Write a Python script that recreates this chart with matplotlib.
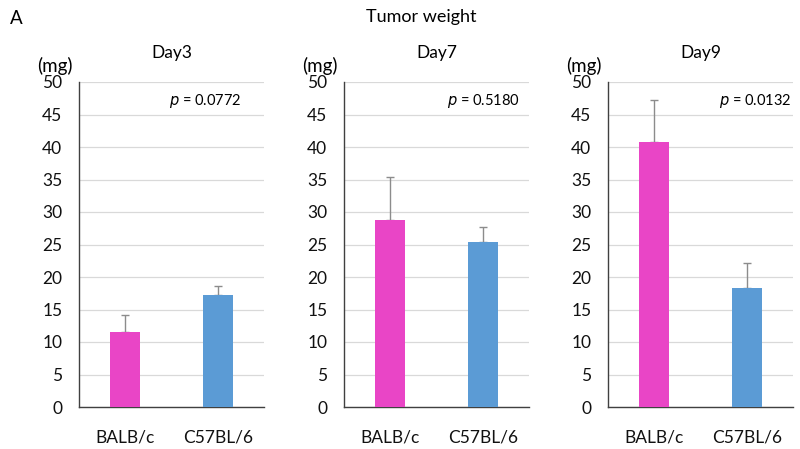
import matplotlib
matplotlib.use("Agg")
import matplotlib.pyplot as plt

# values (mg)
DAYS = ["Day3", "Day7", "Day9"]
GROUPS = ["BALB/c", "C57BL/6"]
MEAN = {
    "Day3": [11.6, 17.3],
    "Day7": [28.8, 25.4],
    "Day9": [40.8, 18.3],
}
ERR_UP = {
    "Day3": [2.5, 1.3],
    "Day7": [6.6, 2.3],
    "Day9": [6.5, 3.8],
}
PVAL = {"Day3": "0.0772", "Day7": "0.5180", "Day9": "0.0132"}

COLORS = ["#E945C6", "#5B9BD5"]

plt.rcParams.update({
    "font.family": ["Lato", "DejaVu Sans"],
    "font.size": 12,
})

fig = plt.figure(figsize=(8.0, 4.49), dpi=100)

# axes rectangles in figure fraction
LEFTS = [79 / 800, 344 / 800, 608 / 800]
WIDTH = 185 / 800
BOTTOM = 1 - 407 / 449
HEIGHT = 325 / 449
P_RIGHT = [0.876, 0.951, 0.99]

for k, day in enumerate(DAYS):
    ax = fig.add_axes([LEFTS[k], BOTTOM, WIDTH, HEIGHT])
    x = range(len(GROUPS))
    ax.bar(x, MEAN[day], width=0.32, color=COLORS, zorder=3)
    ax.errorbar(x, MEAN[day], yerr=[[0, 0], ERR_UP[day]], fmt="none",
                ecolor="#8c8c8c", elinewidth=1.0, capsize=3, capthick=1.0,
                zorder=2)
    ax.set_xlim(-0.5, 1.5)
    ax.set_ylim(0, 50)
    ax.set_yticks(range(0, 51, 5))
    ax.set_xticks(list(x))
    ax.set_xticklabels(GROUPS, fontsize=12.5)
    ax.tick_params(axis="both", length=0, labelcolor="#111111")
    ax.tick_params(axis="y", pad=12, labelsize=12.5)
    ax.tick_params(axis="x", pad=16)
    ax.yaxis.grid(True, color="#d9d9d9", linewidth=0.9, zorder=0)
    ax.set_axisbelow(True)
    for s in ["top", "right"]:
        ax.spines[s].set_visible(False)
    for s in ["left", "bottom"]:
        ax.spines[s].set_color("#404040")
        ax.spines[s].set_linewidth(1.0)
    ax.set_title(day, fontsize=12.5, pad=17)
    ax.text(-0.13, 1.05, "(mg)", transform=ax.transAxes, ha="center",
            va="center", fontsize=13.5)
    ax.text(P_RIGHT[k], 47.1, r"$p$ = " + PVAL[day],
            transform=ax.get_yaxis_transform(), ha="right", va="center",
            fontsize=10.5)

fig.text(0.526, 0.962, "Tumor weight", ha="center", va="center", fontsize=13)
fig.text(0.012, 0.958, "A", ha="left", va="center", fontsize=13.5)

fig.savefig("out.png", dpi=100)
